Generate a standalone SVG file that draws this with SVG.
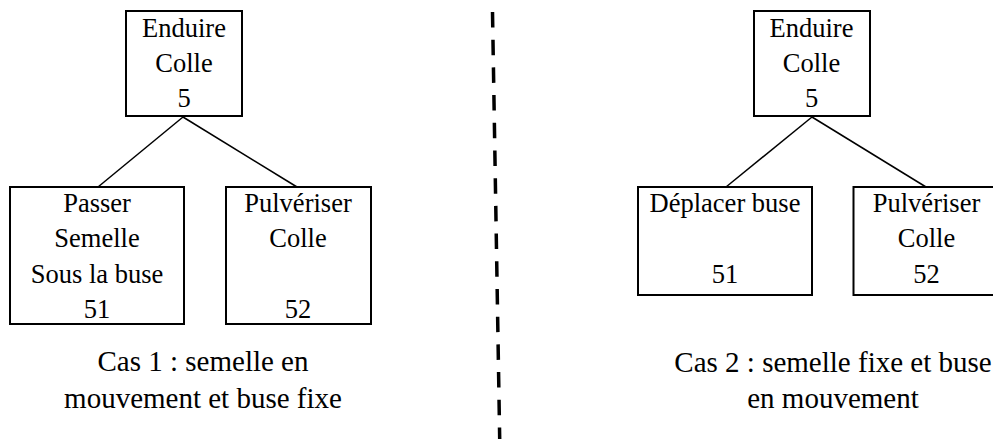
<svg xmlns="http://www.w3.org/2000/svg" width="993" height="439" viewBox="0 0 993 439">
<style>
.box{fill:#fff;stroke:#000;stroke-width:2}
.t{font-family:'Liberation Serif',Tinos,'Times New Roman','DejaVu Serif',serif;font-size:26.5px;fill:#000;text-anchor:middle}
.cap{font-family:'Liberation Serif',Tinos,'Times New Roman','DejaVu Serif',serif;font-size:29px;fill:#000;text-anchor:middle}
.edge{stroke:#000;stroke-width:1.5;fill:none}
</style>
<rect width="993" height="439" fill="#fff"/>
<g id="connectors">
<line class="edge" x1="183" y1="117" x2="98" y2="187"/>
<line class="edge" x1="183" y1="117" x2="297" y2="187"/>
<line class="edge" x1="812" y1="117" x2="726" y2="187"/>
<line class="edge" x1="812" y1="117" x2="926" y2="187"/>
</g>
<g id="divider">
<line x1="492.5" y1="12" x2="499.8" y2="445" stroke="#000" stroke-width="3.5" stroke-dasharray="15.5 12.2"/>
</g>
<g id="n1-root">
<rect class="box" x="126" y="11" width="116" height="105"/>
<text class="t" x="184" y="36.5">Enduire</text>
<text class="t" x="184" y="72">Colle</text>
<text class="t" x="184" y="107">5</text>
</g>
<g id="n1-51">
<rect class="box" x="10" y="187" width="174" height="137"/>
<text class="t" x="97" y="212">Passer</text>
<text class="t" x="97" y="247.3">Semelle</text>
<text class="t" x="97" y="282.7">Sous la buse</text>
<text class="t" x="97" y="317.7">51</text>
</g>
<g id="n1-52">
<rect class="box" x="226" y="187" width="145" height="137"/>
<text class="t" x="298" y="212">Pulvériser</text>
<text class="t" x="298" y="247.3">Colle</text>
<text class="t" x="298" y="317.7">52</text>
</g>
<g id="caption1">
<text class="cap" x="203" y="371">Cas 1 : semelle en</text>
<text class="cap" x="203" y="408">mouvement et buse fixe</text>
</g>
<g id="n2-root">
<rect class="box" x="754" y="11" width="116" height="105"/>
<text class="t" x="811.5" y="36.5">Enduire</text>
<text class="t" x="811.5" y="72">Colle</text>
<text class="t" x="811.5" y="107">5</text>
</g>
<g id="n2-51">
<rect class="box" x="638" y="187" width="174" height="108"/>
<text class="t" x="725" y="212">Déplacer buse</text>
<text class="t" x="725" y="282.7">51</text>
</g>
<g id="n2-52">
<rect class="box" x="853.5" y="187" width="145" height="108"/>
<text class="t" x="926.5" y="212">Pulvériser</text>
<text class="t" x="926.5" y="247.3">Colle</text>
<text class="t" x="926.5" y="282.7">52</text>
</g>
<g id="caption2">
<text class="cap" x="833" y="371.5">Cas 2 : semelle fixe et buse</text>
<text class="cap" x="833" y="408.3">en mouvement</text>
</g>
</svg>
